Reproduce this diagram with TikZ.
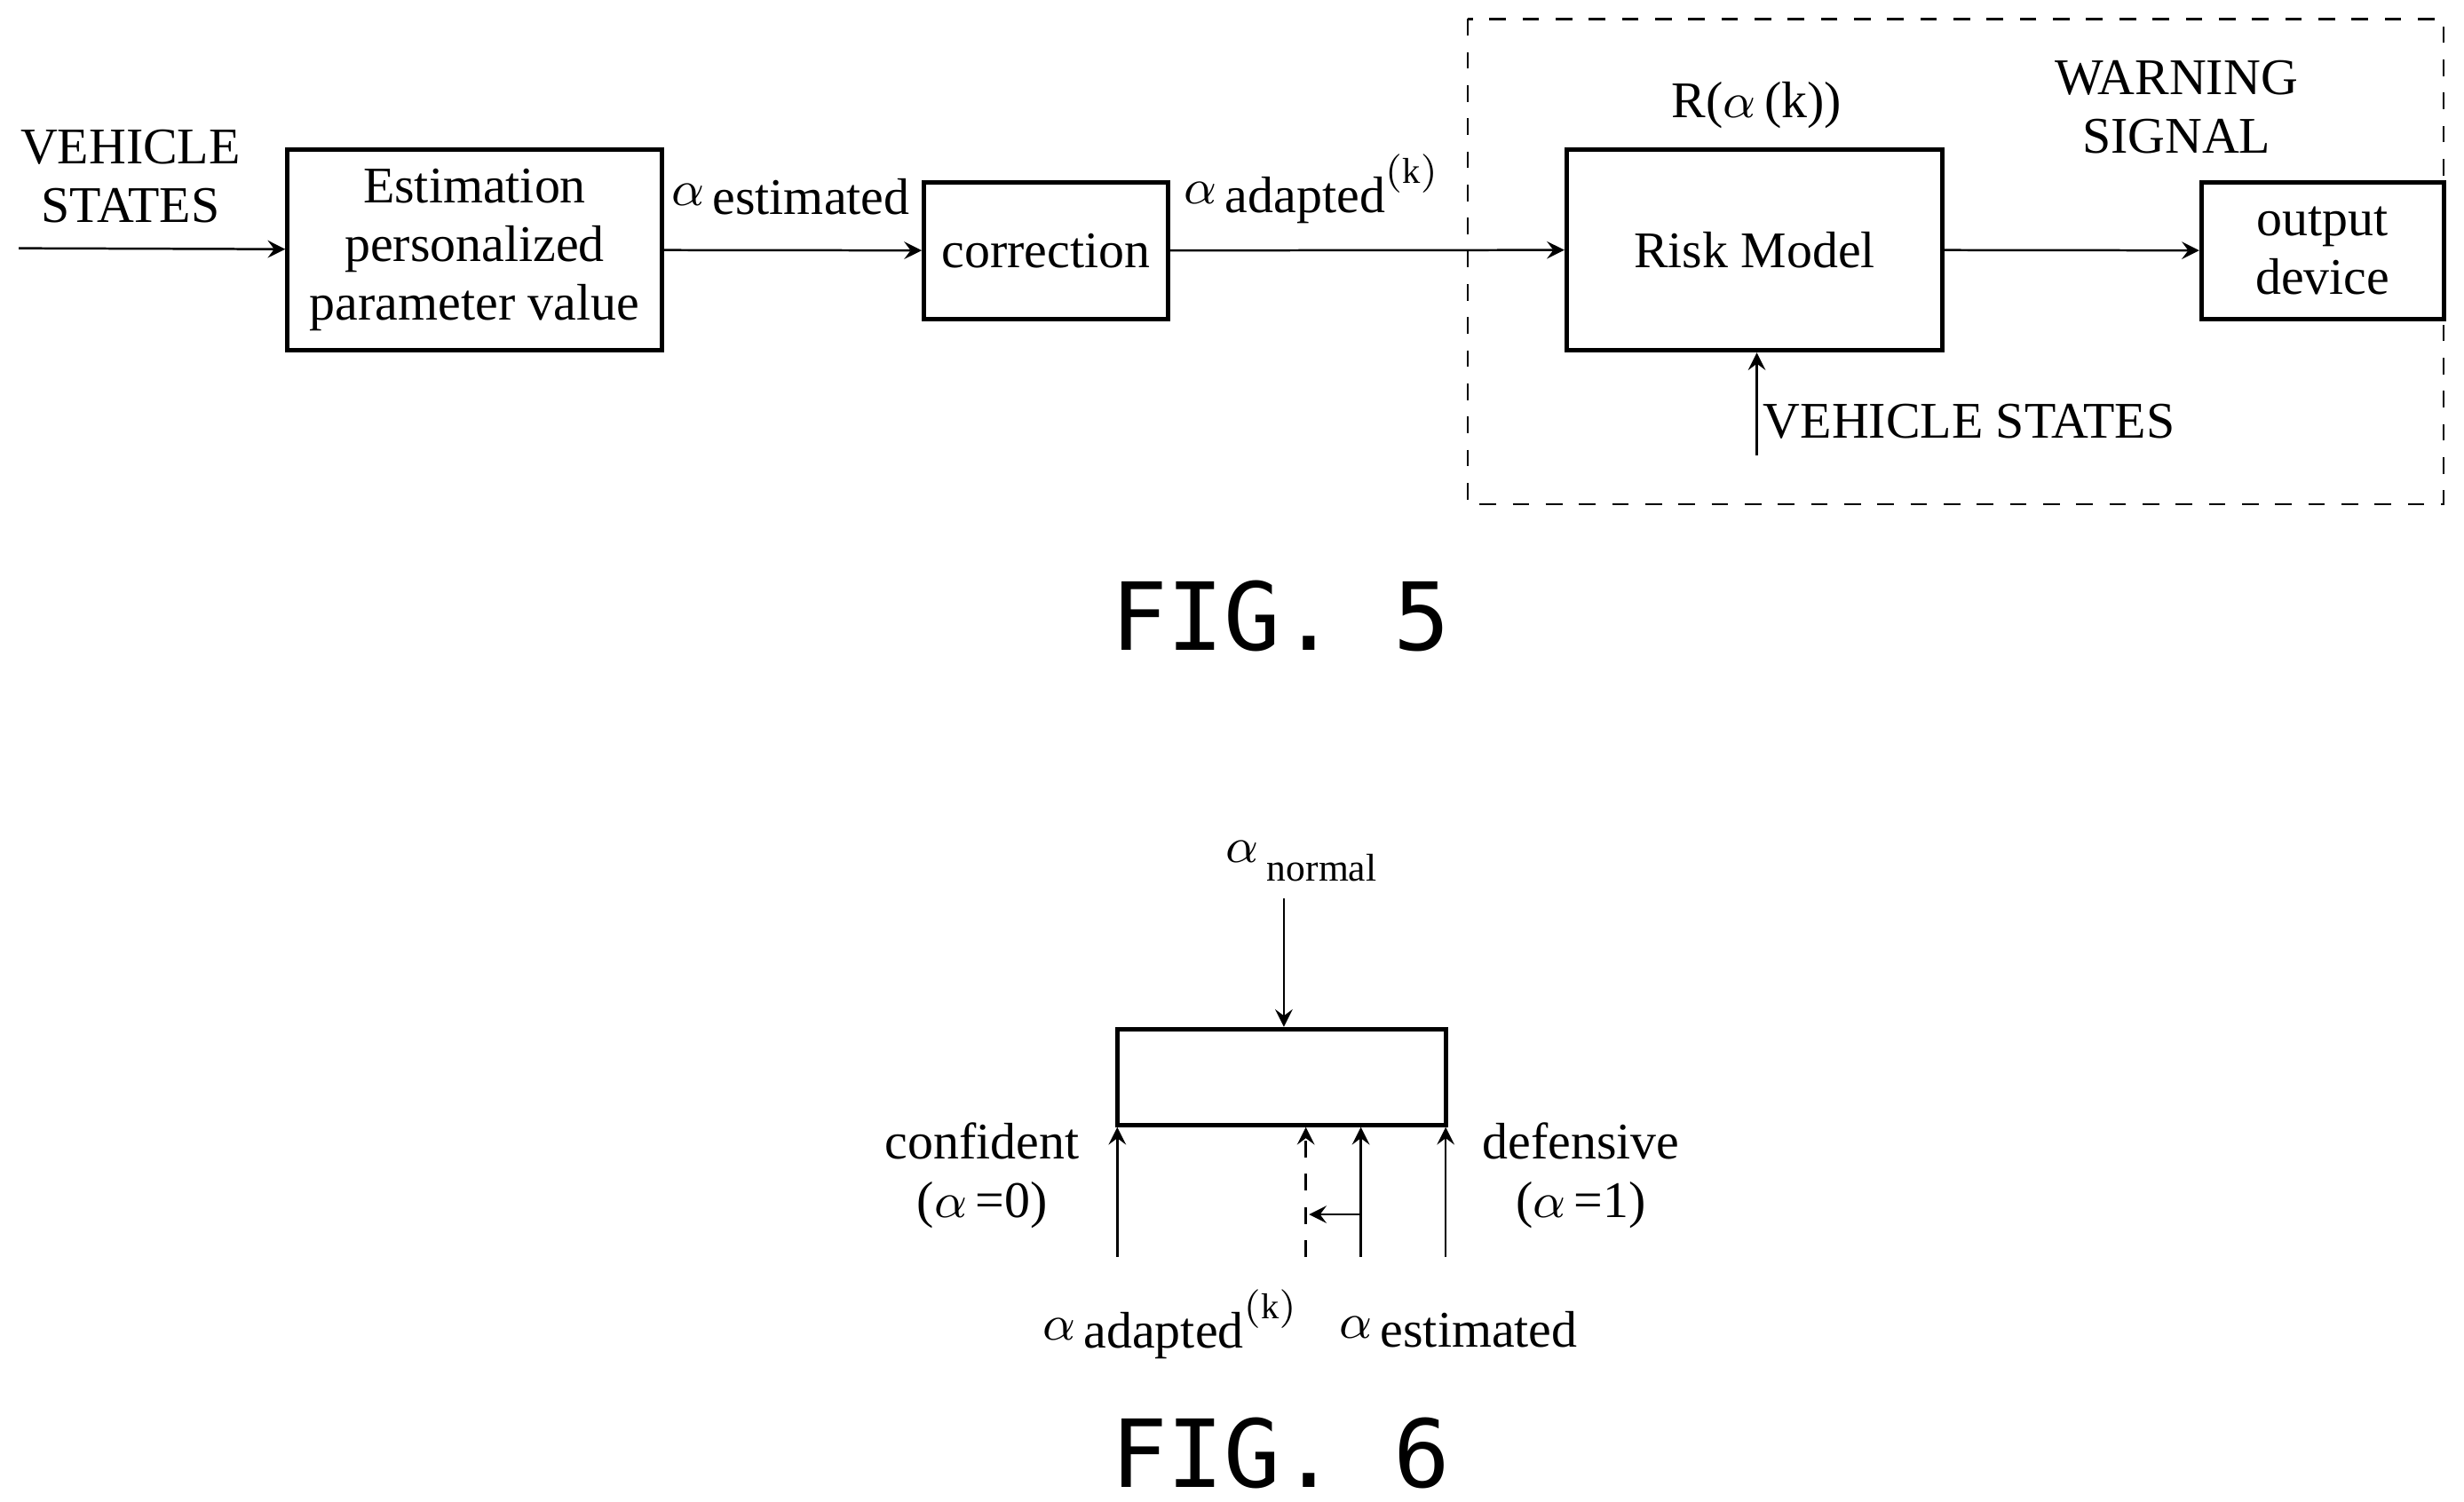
\documentclass[tikz,border=0pt]{standalone}
\usepackage{fontspec}
\setmainfont{Liberation Serif}
\setsansfont{DejaVu Sans Mono}
\usetikzlibrary{positioning}
\tikzset{
  blk/.style={draw, thick, rectangle, align=center, inner sep=0pt},
  lbl/.style={align=center, inner sep=0pt},
  fig/.style={font=\sffamily\fontsize{17}{19}\selectfont, inner sep=0pt},
}
\newcommand{\lowsub}[1]{\raisebox{-0.35ex}{#1}}
\begin{document}
\begin{tikzpicture}[x=0.01cm, y=-0.01cm, font=\fontsize{9.3}{10.6}\selectfont, >=stealth]
    \useasboundingbox (0,0) rectangle (1568,956);

    % Fig. 5 nodes
    \node [lbl] (vs_in) at (83,112) {VEHICLE\\STATES};
    \coordinate (vs_start) at (12,158);
    \node [blk, minimum width=2.38cm, minimum height=1.28cm] (estimation) at (302,159) {Estimation\\personalized\\parameter value};
    \node [blk, minimum width=1.55cm, minimum height=0.87cm] (correction) at (665.5,159.5) {correction};
    \node [blk, minimum width=2.39cm, minimum height=1.28cm] (risk_model) at (1116.5,159) {Risk Model};
    \node [blk, minimum width=1.54cm, minimum height=0.87cm] (output) at (1478,159.5) {output\\device};
    \node [lbl] (a_est) at (503,125) {$\alpha$\,\lowsub{estimated}};
    \node [lbl] (a_adp) at (835,120) {$\alpha$\,\lowsub{adapted}$^{\mathrm{(k)}}$};
    \node [lbl] (risk_lbl) at (1118,67) {R($\alpha$\,(k))};
    \node [lbl] (warning) at (1385,68) {WARNING\\SIGNAL};
    \node [lbl] (vs_bottom) at (1253,268) {VEHICLE STATES};
    \coordinate (vs_up) at (1118,290);
    \draw [dashed] (934,12) rectangle (1555,321);
    \node [fig] (fig5) at (815,392) {FIG. 5};

    % Fig. 5 arrows
    \draw[->] (vs_start) -- (estimation);
    \draw[->] (estimation) -- (correction);
    \draw[->] (correction) -- (risk_model);
    \draw[->] (risk_model) -- (output);
    \draw[->] (vs_up) -- (vs_up |- risk_model.south);

    % Fig. 6 nodes
    \node [lbl] (a_normal) at (828,548) {$\alpha$\,\raisebox{-0.8ex}{\fontsize{7}{8}\selectfont normal}};
    \coordinate (n_top) at (817,572);
    \node [blk, minimum width=2.09cm, minimum height=0.61cm] (range) at (815.5,685.5) {};
    \coordinate (c_bot) at (711,800);
    \coordinate (d_bot) at (920,800);
    \coordinate (e_bot) at (866,800);
    \coordinate (k_bot) at (831,800);
    \coordinate (e_mid) at (866,773);
    \coordinate (k_mid) at (833,773);
    \node [lbl] (confident) at (625,748) {confident\\($\alpha$\,=0)};
    \node [lbl] (defensive) at (1006,748) {defensive\\($\alpha$\,=1)};
    \node [lbl] (a_adp6) at (745,843) {$\alpha$\,\lowsub{adapted}$^{\mathrm{(k)}}$};
    \node [lbl] (a_est6) at (928,846) {$\alpha$\,\lowsub{estimated}};
    \node [fig] (fig6) at (815,925) {FIG. 6};

    % Fig. 6 arrows
    \draw[->] (n_top) -- (n_top |- range.north);
    \draw[->] (c_bot) -- (c_bot |- range.south);
    \draw[->] (d_bot) -- (d_bot |- range.south);
    \draw[->] (e_bot) -- (e_bot |- range.south);
    \draw[->, dashed] (k_bot) -- (k_bot |- range.south);
    \draw[->] (e_mid) -- (k_mid);
\end{tikzpicture}
\end{document}
